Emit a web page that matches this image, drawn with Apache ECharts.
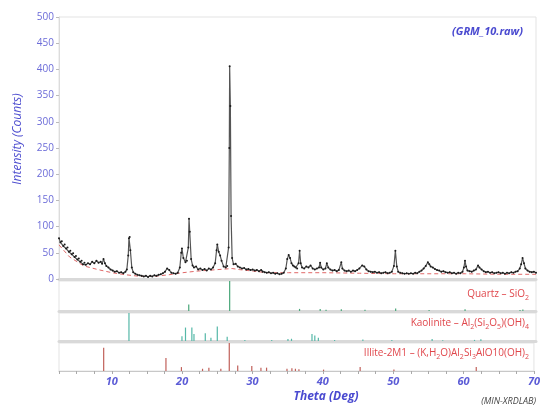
<!DOCTYPE html>
<html>
<head>
<meta charset="utf-8">
<script src="https://cdn.jsdelivr.net/npm/echarts@6/dist/echarts.min.js"></script>
<style>
  html, body { margin: 0; padding: 0; background: #fff; }
  #chart { width: 543px; height: 417px; }
</style>
</head>
<body>
<div id="chart"></div>
<script>
// measured pattern, [2theta, counts]
const observed = [
  [2.5,78],[2.7,70],[2.9,72],[3.1,63],[3.3,66],[3.5,58],[3.7,60],[3.9,52],[4.1,54],[4.3,47],
  [4.5,49],[4.7,42],[4.9,44],[5.1,37],[5.3,39],[5.5,33],[5.7,35],[5.9,28],[6.1,31],[6.3,27],
  [6.6,30],[6.9,28],[7.2,33],[7.5,30],[7.8,35],[8.1,31],[8.4,33],[8.6,29],[8.8,38],[9.0,30],
  [9.2,25],[9.5,22],[9.8,18],[10.1,16],[10.4,14],[10.7,15],[11.0,12],[11.3,13],[11.6,11],[11.9,14],
  [12.1,18],[12.3,45],[12.4,78],[12.5,80],[12.6,55],[12.8,22],[13.0,13],[13.3,10],[13.6,8],[13.9,7],
  [14.2,6],[14.5,5],[14.8,6],[15.1,4],[15.4,6],[15.7,5],[16.0,7],[16.3,6],[16.6,8],[16.9,9],
  [17.2,11],[17.5,14],[17.8,20],[18.1,17],[18.4,12],[18.7,11],[19.0,10],[19.3,12],[19.6,22],[19.8,50],
  [19.9,58],[20.1,40],[20.4,32],[20.6,35],[20.8,60],[20.9,115],[21.0,90],[21.2,38],[21.4,26],[21.6,22],
  [21.9,24],[22.2,18],[22.5,20],[22.8,17],[23.1,19],[23.4,16],[23.7,20],[24.0,18],[24.3,22],[24.6,30],
  [24.8,55],[24.9,66],[25.1,52],[25.3,45],[25.5,35],[25.8,24],[26.1,22],[26.3,25],[26.5,60],[26.6,250],
  [26.65,406],[26.75,330],[26.85,120],[27.0,40],[27.2,28],[27.5,29],[27.8,24],[28.1,22],[28.4,20],[28.7,21],
  [29.0,18],[29.3,19],[29.6,17],[29.9,18],[30.2,16],[30.5,17],[30.8,15],[31.1,17],[31.3,14],[31.6,13],
  [31.9,12],[32.2,13],[32.5,11],[32.8,12],[33.1,10],[33.4,11],[33.7,9],[34.0,10],[34.3,12],[34.6,20],
  [34.8,38],[35.0,46],[35.2,40],[35.4,30],[35.6,26],[35.8,24],[36.0,22],[36.2,20],[36.4,30],[36.55,54],
  [36.7,30],[36.9,22],[37.2,20],[37.5,24],[37.8,22],[38.1,26],[38.4,20],[38.7,18],[39.0,20],[39.3,22],
  [39.45,31],[39.6,22],[39.9,18],[40.2,20],[40.4,30],[40.6,22],[40.9,18],[41.2,16],[41.5,17],[41.8,15],
  [42.1,17],[42.45,32],[42.6,20],[42.9,16],[43.2,15],[43.5,16],[43.8,14],[44.1,16],[44.4,15],[44.7,17],
  [45.0,20],[45.4,26],[45.7,24],[46.0,18],[46.3,15],[46.6,14],[46.9,13],[47.2,14],[47.5,12],[47.8,13],
  [48.1,11],[48.4,12],[48.7,13],[49.0,11],[49.3,12],[49.6,14],[49.9,25],[50.1,54],[50.3,24],[50.5,14],
  [50.8,12],[51.1,11],[51.4,10],[51.7,11],[52.0,10],[52.3,11],[52.6,10],[52.9,12],[53.2,11],[53.5,14],
  [53.8,16],[54.1,20],[54.4,25],[54.7,32],[54.9,28],[55.1,24],[55.4,22],[55.7,19],[56.0,17],[56.3,16],
  [56.6,14],[56.9,15],[57.2,13],[57.5,12],[57.8,13],[58.1,11],[58.4,12],[58.7,10],[59.0,12],[59.3,11],
  [59.6,14],[59.8,22],[59.95,35],[60.1,24],[60.3,16],[60.6,15],[60.9,14],[61.2,16],[61.5,18],[61.8,26],
  [62.0,22],[62.3,18],[62.6,15],[62.9,13],[63.2,14],[63.5,12],[63.8,13],[64.1,11],[64.4,12],[64.7,13],
  [65.0,11],[65.3,12],[65.6,10],[65.9,12],[66.2,11],[66.5,13],[66.8,12],[67.1,14],[67.4,15],[67.7,20],
  [67.9,28],[68.1,40],[68.3,30],[68.5,20],[68.8,16],[69.1,14],[69.4,13],[69.7,14],[70.0,12]
];
// fitted background (red dashed)
const background = [
  [2.5,65],[4,42],[6,25],[8,18],[10,12],[12,8],[14,5],[16,5],[18,8],[20,12],[22,15],[24,17],
  [26,19],[27,20],[28,18],[30,15],[32,12],[35,12],[40,12],[45,11],[50,10],[55,10],[60,10],[65,9],[70,9]
];
// reference sticks, [2theta, relative intensity]
const quartzSticks = [
  [20.86,22],[26.65,100],[36.54,7],[39.46,7],[40.29,4],[42.45,6],[45.8,4],[50.14,8],[54.87,3],[59.96,6],[67.74,3],[68.14,5]
];
const kaoliniteSticks = [
  [12.4,100],[19.9,17],[20.4,48],[21.3,48],[21.6,25],[23.2,28],[24.0,12],[24.9,52],[26.3,15],[28.8,4],[32.6,4],
  [34.9,7],[35.4,8],[38.3,25],[38.7,20],[39.2,12],[41.5,4],[45.5,5],[49.6,4],[55.3,7],[56.8,3],[61.3,4],[62.2,6]
];
const illiteSticks = [
  [8.85,83],[17.7,46],[19.9,14],[22.9,8],[23.8,12],[25.5,8],[26.7,100],[27.9,20],[29.9,18],[31.2,12],[32.0,12],
  [34.9,8],[35.6,10],[36.1,8],[36.6,6],[40.1,5],[45.3,14],[50.1,5],[61.8,14]
];
const yTicks = { min: 0, max: 500, step: 50 };
const xRange = { min: 2.5, max: 70, step: 2.5 };

const font = '"Open Sans", "Noto Sans", sans-serif';
const blue = '#5b5bd6';
const red = '#e0474c';
const sep = '#d9d9d9';

const grids = [
  { left: 59, right: 7, top: 17, height: 262 },
  { left: 59, right: 7, top: 281, height: 30 },
  { left: 59, right: 7, top: 313, height: 28 },
  { left: 59, right: 7, top: 343, height: 28 }
].map(g => ({ ...g, show: true, borderColor: '#e3e3e3', borderWidth: 1 }));

const xAxes = grids.map((g, i) => ({
  type: 'value',
  gridIndex: i,
  min: xRange.min,
  max: xRange.max,
  interval: xRange.step,
  splitLine: { show: false },
  axisLine: { lineStyle: { color: i < 3 ? sep : '#c8c8c8', width: i < 3 ? 3 : 1 } },
  axisTick: { show: i === 3, length: 3, lineStyle: { color: '#aaa' } },
  axisLabel: {
    show: i === 3,
    margin: 5,
    color: blue,
    fontStyle: 'italic',
    fontWeight: 'bold',
    fontSize: 11,
    fontFamily: font,
    formatter: v => (v % 10 === 0 ? String(v) : '')
  }
}));

const yAxes = [
  {
    type: 'value', gridIndex: 0,
    min: yTicks.min, max: yTicks.max, interval: yTicks.step,
    splitLine: { show: false },
    axisLine: { show: true, lineStyle: { color: '#dcdcdc' } },
    axisTick: { show: true, length: 3, lineStyle: { color: '#bbb' } },
    axisLabel: { color: '#6b6bd8', fontSize: 10, fontFamily: font, margin: 5 }
  },
  { type: 'value', gridIndex: 1, min: 0, max: 100, show: false },
  { type: 'value', gridIndex: 2, min: 0, max: 100, show: false },
  { type: 'value', gridIndex: 3, min: 0, max: 100, show: false }
];

const stickSeries = (data, idx, color) => ({
  type: 'custom',
  xAxisIndex: idx, yAxisIndex: idx,
  data,
  encode: { x: 0, y: 1 },
  renderItem: (params, api) => {
    const p0 = api.coord([api.value(0), 0]);
    const p1 = api.coord([api.value(0), api.value(1)]);
    return {
      type: 'line',
      shape: { x1: p0[0], y1: p0[1], x2: p1[0], y2: p1[1] },
      style: { stroke: color, lineWidth: 1.2 }
    };
  }
});

const subText = {
  a: { color: red, fontSize: 10, fontWeight: 'normal', fontFamily: font, lineHeight: 14 },
  b: { color: red, fontSize: 7, fontWeight: 'normal', fontFamily: font, lineHeight: 8, verticalAlign: 'bottom' }
};
const labelStyle = { fontWeight: 'normal', rich: subText };

const chart = echarts.init(document.getElementById('chart'), null, { renderer: 'canvas' });
chart.setOption({
  animation: false,
  backgroundColor: '#fff',
  grid: grids,
  xAxis: xAxes,
  yAxis: yAxes,
  title: [
    { text: '(GRM_10.raw)', right: 20, top: 26, padding: 0,
      textStyle: { color: '#4a4ad0', fontSize: 11, fontStyle: 'italic', fontWeight: 'bold', fontFamily: font } },
    { text: '{a|Quartz – SiO}{b|2}', right: 14, top: 287, padding: 0, textStyle: labelStyle },
    { text: '{a|Kaolinite – Al}{b|2}{a|(Si}{b|2}{a|O}{b|5}{a|)(OH)}{b|4}', right: 14, top: 316, padding: 0, textStyle: labelStyle },
    { text: '{a|Illite-2M1 – (K,H}{b|2}{a|O)Al}{b|2}{a|Si}{b|3}{a|AlO10(OH)}{b|2}', right: 14, top: 346, padding: 0, textStyle: labelStyle }
  ],
  graphic: [
    { type: 'text', x: 18, y: 139, rotation: Math.PI / 2,
      style: { text: 'Intensity (Counts)', fill: '#5050d0', font: 'italic 12px ' + font, align: 'center', verticalAlign: 'middle' } },
    { type: 'text', x: 326, y: 397,
      style: { text: 'Theta (Deg)', fill: '#4a4ad0', font: 'italic bold 12px ' + font, align: 'center', verticalAlign: 'middle' } },
    { type: 'text', x: 536, y: 401,
      style: { text: '(MIN-XRDLAB)', fill: '#444', font: 'italic 9px ' + font, align: 'right', verticalAlign: 'middle' } }
  ],
  series: [
    {
      type: 'line', xAxisIndex: 0, yAxisIndex: 0,
      data: background,
      showSymbol: false,
      lineStyle: { color: '#e06868', width: 1, type: [4, 3] },
      z: 1
    },
    {
      type: 'line', xAxisIndex: 0, yAxisIndex: 0,
      data: observed,
      symbol: 'circle', symbolSize: 2, showSymbol: true,
      itemStyle: { color: '#1a1a1a' },
      lineStyle: { color: '#555', width: 1.2 },
      z: 2
    },
    stickSeries(quartzSticks, 1, '#4aa77a'),
    stickSeries(kaoliniteSticks, 2, '#55b8a8'),
    stickSeries(illiteSticks, 3, '#c0605a')
  ]
});
</script>
</body>
</html>
